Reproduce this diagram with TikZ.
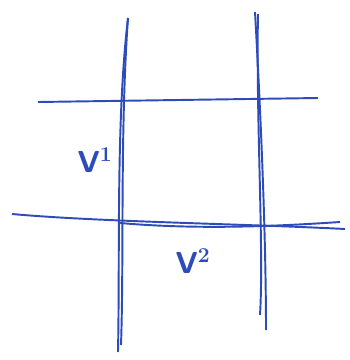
\documentclass[tikz,border=0pt]{standalone}
\usepackage{tikz}
\definecolor{pen}{RGB}{45,75,185}
\begin{document}
\begin{tikzpicture}[x=0.02cm,y=-0.02cm,line width=1.1pt,pen]
            \useasboundingbox (0,0) rectangle (350,360);
            % ends of the pen strokes
            \coordinate (V1t) at (128,18);
            \coordinate (V1b) at (118,352);
            \coordinate (V2t) at (255,12);
            \coordinate (V2b) at (266,330);
            \coordinate (H1l) at (38,102);
            \coordinate (H1r) at (318,98);
            \coordinate (H2l) at (12,214);
            \coordinate (H2r) at (345,229);
            \draw (V1t) .. controls (116,120) and (120,250) .. (V1b);
            \draw (V1t) .. controls (120,130) and (124,260) .. (121,345);
            \draw (V2t) .. controls (260,100) and (266,230) .. (V2b);
            \draw (258,14) .. controls (256,120) and (264,250) .. (260,315);
            \draw (H1l) -- (H1r);
            \draw (H2l) .. controls (100,222) and (250,224) .. (H2r);
            \draw (120,223) .. controls (200,230) and (280,226) .. (340,222);
            \draw (95,160) node[font=\LARGE\sffamily\bfseries] (v1) {V$^{\mathbf{1}}$};
            \draw (193,261) node[font=\LARGE\sffamily\bfseries] (v2) {V$^{\mathbf{2}}$};
\end{tikzpicture}
\end{document}
